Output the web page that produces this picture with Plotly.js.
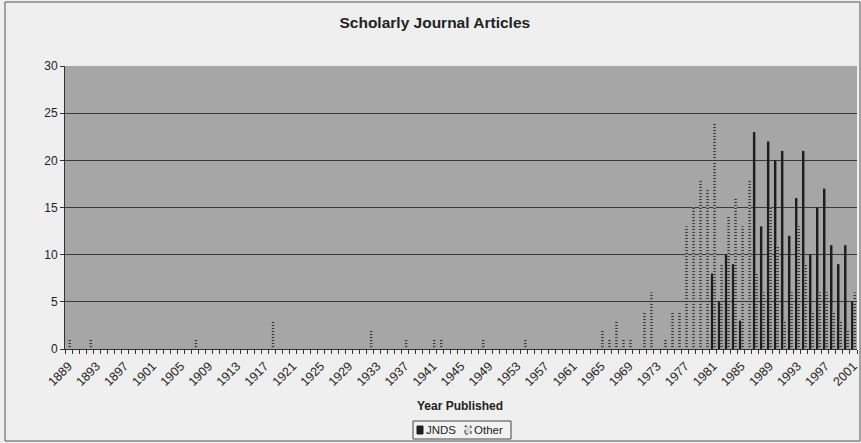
<!DOCTYPE html>
<html>
<head>
<meta charset="utf-8">
<script src="https://cdn.plot.ly/plotly-3.0.1.min.js"></script>
<style>
html,body{margin:0;padding:0;background:#efefef;}
#chart{width:861px;height:443px;}
</style>
</head>
<body>
<div id="chart"></div>
<script>
// Years that have JNDS articles and their counts
var jndsYears  = [1981,1982,1983,1984,1985,1987,1988,1989,1990,1991,1992,1993,1994,1995,1996,1997,1998,1999,2000,2001];
var jndsValues = [8,5,10,9,3,23,13,22,20,21,12,16,21,10,15,17,11,9,11,5];

// Years that have articles in other journals and their counts
var otherYears  = [1889,1892,1907,1918,1932,1937,1941,1942,1948,1954,1965,1966,1967,1968,1969,1971,1972,1974,1975,1976,1977,1978,1979,1980,1981,1982,1983,1984,1985,1986,1987,1988,1989,1990,1991,1992,1993,1994,1995,1996,1997,1998,1999,2000,2001];
var otherValues = [1,1,1,3,2,1,1,1,1,1,2,1,3,1,1,4,6,1,4,4,13,15,18,17,24,9,14,16,13,18,8,6,15,11,3,6,13,9,4,6,6,4,3,2,6];

var tickYears = [1889,1893,1897,1901,1905,1909,1913,1917,1921,1925,1929,1933,1937,1941,1945,1949,1953,1957,1961,1965,1969,1973,1977,1981,1985,1989,1993,1997,2001];

var seriesNames = ['JNDS', 'Other'];

var font = 'Liberation Sans, Arial, sans-serif';

// plot area geometry (pixels) for placing non-data decorations
var L = 65, R = 857, T = 66, B = 349;
function px(x) { return (x - L) / (R - L); }
function py(y) { return (B - y) / (B - T); }

var traces = [
  {
    type: 'bar', name: seriesNames[0],
    x: jndsYears, y: jndsValues,
    marker: {color: '#1e1e1e', line: {width: 0}}
  },
  {
    type: 'bar', name: seriesNames[1],
    x: otherYears, y: otherValues,
    marker: {
      color: '#9c9c9c',
      line: {width: 0},
      pattern: {shape: '-', fgcolor: '#333333', bgcolor: '#b8b8b8', size: 3, solidity: 0.45}
    }
  }
];

var layout = {
  width: 861, height: 443,
  margin: {l: L, r: 861 - R, t: T, b: 443 - B},
  paper_bgcolor: '#efefef',
  plot_bgcolor: '#a6a6a6',
  font: {family: font, color: '#222'},
  barmode: 'group',
  bargap: 0.3,
  bargroupgap: 0,
  showlegend: false,
  title: {
    text: '<b>Scholarly Journal Articles</b>',
    font: {family: font, size: 15.5, color: '#222'},
    xref: 'container', x: 0.505, xanchor: 'center',
    yref: 'container', y: 0.95, yanchor: 'middle'
  },
  xaxis: {
    type: 'linear',
    range: [1888.5, 2001.5],
    tickmode: 'array',
    tickvals: tickYears,
    ticktext: tickYears.map(String),
    tickangle: -45,
    tickfont: {family: font, size: 12.5, color: '#222'},
    ticks: '',
    ticklabelstandoff: 4,
    minor: {ticks: 'outside', tick0: 1888.5, dtick: 1, ticklen: 4, tickcolor: '#333', tickwidth: 1, showgrid: false},
    showline: true, linecolor: '#333', linewidth: 1,
    showgrid: false, zeroline: false,
    fixedrange: true
  },
  yaxis: {
    range: [0, 30],
    dtick: 5,
    tickfont: {family: font, size: 12, color: '#222'},
    ticks: 'outside', ticklen: 4, tickcolor: '#333',
    showline: true, linecolor: '#333', linewidth: 1,
    showgrid: true, gridcolor: '#3a3a3a', gridwidth: 1,
    zeroline: false,
    fixedrange: true
  },
  annotations: [
    {
      text: '<b>Year Published</b>',
      xref: 'paper', yref: 'paper',
      x: px(460), y: py(406), xanchor: 'center', yanchor: 'middle',
      showarrow: false,
      font: {family: font, size: 12, color: '#222'}
    },
    {
      text: seriesNames[0],
      xref: 'paper', yref: 'paper',
      x: px(424), y: py(430), xanchor: 'left', yanchor: 'middle',
      showarrow: false,
      font: {family: font, size: 11.5, color: '#222'}
    },
    {
      text: seriesNames[1],
      xref: 'paper', yref: 'paper',
      x: px(472), y: py(430), xanchor: 'left', yanchor: 'middle',
      showarrow: false,
      font: {family: font, size: 11.5, color: '#222'}
    }
  ],
  shapes: [
    {
      type: 'rect', xref: 'paper', yref: 'paper',
      x0: px(5), x1: px(860), y0: py(441), y1: py(2),
      line: {color: '#555', width: 1}, layer: 'below'
    },
    {
      type: 'rect', xref: 'paper', yref: 'paper',
      x0: px(413), x1: px(511), y0: py(439), y1: py(421),
      fillcolor: '#f2f2f2',
      line: {color: '#444', width: 1}, layer: 'above'
    },
    {
      type: 'rect', xref: 'paper', yref: 'paper',
      x0: px(417), x1: px(423), y0: py(434), y1: py(426),
      fillcolor: '#1e1e1e', line: {color: '#1e1e1e', width: 1}, layer: 'above'
    },
    {
      type: 'rect', xref: 'paper', yref: 'paper',
      x0: px(465), x1: px(471), y0: py(434), y1: py(426),
      fillcolor: '#d8d8d8', line: {color: '#333', width: 1, dash: 'dot'}, layer: 'above'
    }
  ]
};

Plotly.newPlot('chart', traces, layout, {displayModeBar: false, staticPlot: true});
</script>
</body>
</html>
